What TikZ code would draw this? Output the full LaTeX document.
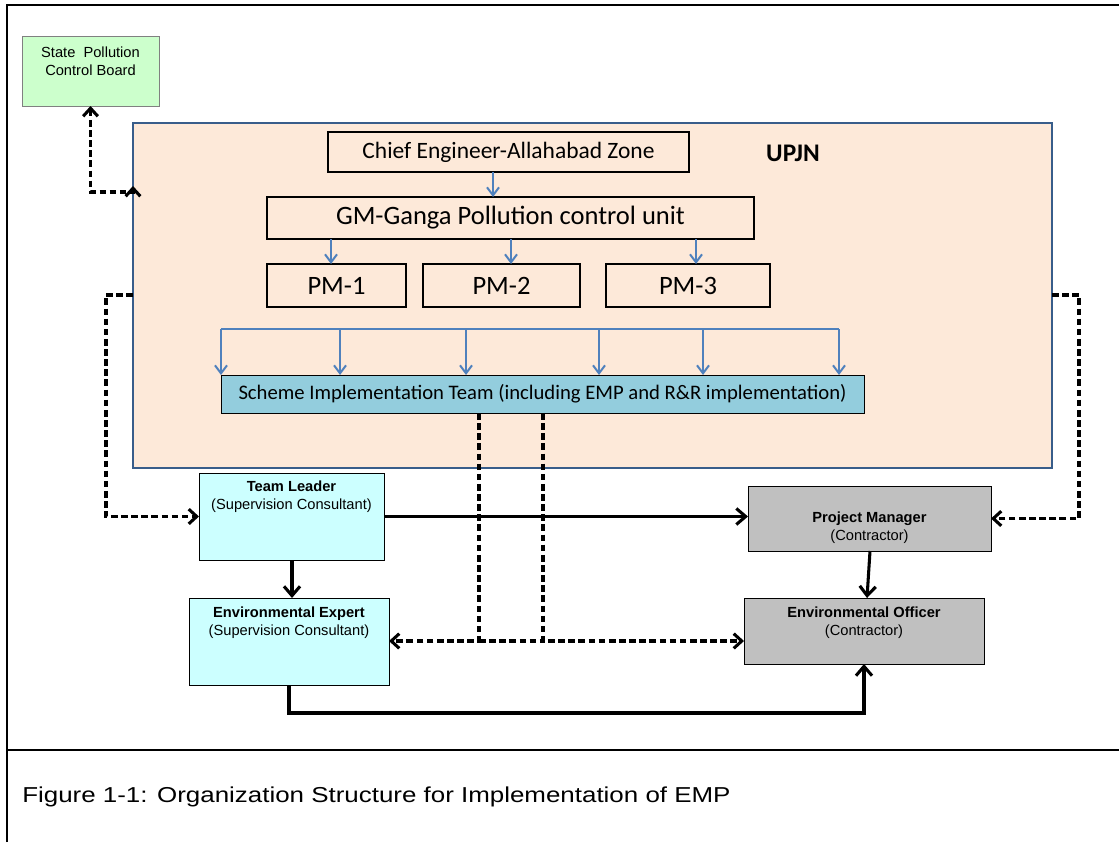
\documentclass[tikz,border=0pt]{standalone}
\usepackage{fontspec}
\setmainfont{Liberation Sans}
\newfontfamily\calib{Carlito}
\newfontfamily\capfont[FakeStretch=1.2]{Liberation Sans}
\usetikzlibrary{arrows.meta}
\newdimen\pxu \pxu=0.75pt
\definecolor{upjnfill}{HTML}{FDE9D9}
\definecolor{upjnline}{HTML}{385D8A}
\definecolor{spcbfill}{HTML}{CCFFCC}
\definecolor{cyanfill}{HTML}{CCFFFF}
\definecolor{grayfill}{HTML}{C0C0C0}
\definecolor{schfill}{HTML}{93CDDD}
\definecolor{blueline}{HTML}{4F81BD}
\tikzset{
  bx/.style={draw, inner sep=0pt, outer sep=0pt, anchor=north west},
  thinbox/.style={bx, line width=0.75pt},
  orgbox/.style={bx, line width=1pt, font=\calib\fontsize{19.9}{22}\selectfont},
  arial/.style={font=\fontsize{11}{13.5}\selectfont, align=center, inner sep=0pt},
  barrow/.style={draw=blueline, line width=1.5pt, -{Straight Barb[length=6pt,width=9pt]}},
  bline/.style={draw=blueline, line width=1.5pt},
  sarrow/.style={draw=black, line width=2.3pt, -{Straight Barb[length=7pt,width=12pt]}},
  dline/.style={draw=black, line width=2.3pt, dash pattern=on 5pt off 2.6pt},
  dtip/.style={-{Straight Barb[length=6pt,width=11pt]}},
  darrow/.style={dline, dtip},
  frameline/.style={draw=black, line width=2pt}
}
\begin{document}
\begin{tikzpicture}[x=0.75pt, y=-0.75pt]
\useasboundingbox (0,0) rectangle (1119,842);
% frame
\draw[frameline] (7,842) -- (7,5) -- (1119,5);
\draw[frameline] (7,750) -- (1119,750);

% boxes
\node[thinbox, draw=gray, fill=spcbfill, minimum width=137\pxu, minimum height=69\pxu] (spcb) at (22,37) {};
\node[arial] (spcbt) at (90.5,61) {State\ \ Pollution\\Control Board};

\node[bx, draw=upjnline, line width=2pt, fill=upjnfill, minimum width=919\pxu, minimum height=345\pxu] (upjn) at (133,123) {};
\node[font=\calib\bfseries\fontsize{19}{22}\selectfont, inner sep=0pt] (upjnt) at (793,153) {UPJN};

\node[orgbox, minimum width=361\pxu, minimum height=40\pxu, font=\calib\fontsize{17.6}{20}\selectfont] (chief) at (328,132) {Chief Engineer-Allahabad Zone};
\node[orgbox, minimum width=487\pxu, minimum height=42\pxu] (gm) at (267,197) {GM-Ganga Pollution control unit};
\node[orgbox, minimum width=139\pxu, minimum height=43\pxu] (pm1) at (267,264) {PM-1};
\node[orgbox, minimum width=157\pxu, minimum height=43\pxu] (pm2) at (423,264) {PM-2};
\node[orgbox, minimum width=164\pxu, minimum height=43\pxu] (pm3) at (606,264) {PM-3};
\node[thinbox, fill=schfill, minimum width=643\pxu, minimum height=38\pxu, font=\calib\fontsize{15.5}{18}\selectfont] (sch) at (221,375) {Scheme Implementation Team (including EMP and R\&R implementation)};

\node[thinbox, fill=cyanfill, minimum width=185\pxu, minimum height=87\pxu] (tl) at (199,473) {};
\node[arial] (tlt) at (291.5,497) {\textbf{Team Leader}\\(Supervision Consultant)};
\node[thinbox, fill=cyanfill, minimum width=200\pxu, minimum height=87\pxu] (ee) at (189,598) {};
\node[arial] (eet) at (289,623) {\textbf{Environmental Expert}\\(Supervision Consultant)};
\node[thinbox, fill=grayfill, minimum width=243\pxu, minimum height=65\pxu] (pm) at (748,486) {};
\node[arial] (pmt) at (869.5,527.5) {\textbf{Project Manager}\\(Contractor)};
\node[thinbox, fill=grayfill, minimum width=240\pxu, minimum height=66\pxu] (eo) at (744,598) {};
\node[arial] (eot) at (864,623) {\textbf{Environmental Officer}\\(Contractor)};

% blue connectors
\draw[barrow] (chief.south -| 493,0) -- (gm.north -| 493,0);
\draw[barrow] (gm.south -| 331,0) -- (pm1.north -| 331,0);
\draw[barrow] (gm.south -| 511,0) -- (pm2.north -| 511,0);
\draw[barrow] (gm.south -| 696,0) -- (pm3.north -| 696,0);
\coordinate (brL) at (221,329);
\coordinate (brR) at (839,329);
\draw[bline] (brL) -- (brR);
\foreach \xx in {221,340,466,599,703,839}
  \draw[barrow] (brL -| \xx,0) -- (sch.north -| \xx,0);

% dashed connectors
\coordinate (s1) at (90.5,192);
\draw[dline, {Straight Barb[length=6pt,width=11pt]}-{Straight Barb[length=6pt,width=11pt]}] (spcb.south) -- (s1) -- (upjn.west |- s1) -- (upjn.west |- 0,186);
\coordinate (l1) at (106,295);
\draw[darrow] (upjn.west |- l1) -- (l1) |- (tl.west);
\coordinate (r1) at (1079,295);
\draw[darrow] (upjn.east |- r1) -- (r1) |- (pm.east);
\coordinate (j1) at (479,641);
\coordinate (j2) at (543,641);
\draw[darrow] (sch.south -| j1) -- (j1) -- (ee.east |- j1);
\draw[darrow] (sch.south -| j2) -- (j2) -- (eo.west |- j2);
\draw[dline] (j1) -- (j2);

% solid connectors
\draw[sarrow] (tl.east) -- (pm.west |- tl.east);
\draw[sarrow] (tl.south -| 292,0) -- (ee.north -| 292,0);
\draw[sarrow] (pm.south -| 870,0) -- (eo.north -| 867,0);
\coordinate (b1) at (289,713);
\draw[sarrow] (ee.south -| b1) -- (b1) -| (eo.south -| 864,0);

% caption
\node[anchor=base west, inner sep=0pt, font=\capfont\fontsize{16.2}{19}\selectfont] (cap) at (22,802) {Figure 1-1: Organization Structure for Implementation of EMP};
\end{tikzpicture}
\end{document}
